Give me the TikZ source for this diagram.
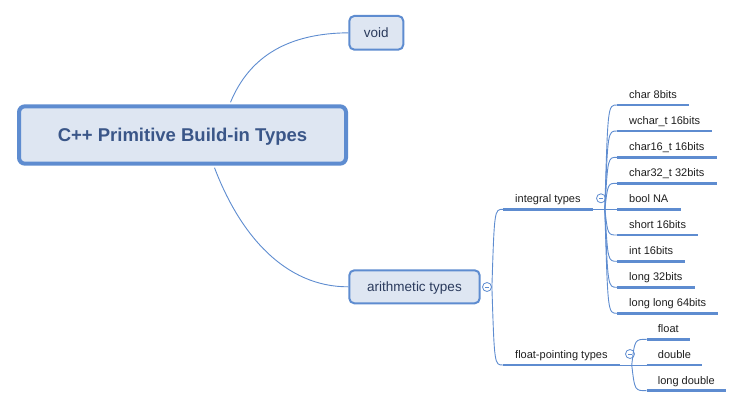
\documentclass[tikz,border=0pt]{standalone}
\usepackage{fontspec}
\setmainfont{Liberation Sans}

\definecolor{mapblue}{RGB}{94,140,208}
\definecolor{mapfill}{RGB}{222,230,242}
\definecolor{titletext}{RGB}{58,86,136}
\definecolor{topictext}{RGB}{42,58,92}
\definecolor{leaftext}{RGB}{30,30,30}

\tikzset{
  topic/.style={draw=mapblue, fill=mapfill, rounded corners=5pt, line width=2pt, text depth=0pt,
    font=\fontsize{13.5}{16}\selectfont, text=topictext},
  leaf/.style={anchor=south west, inner xsep=12pt, inner ysep=6.5pt, text depth=0pt,
    font=\fontsize{11}{13}\selectfont, text=leaftext},
  uline/.style={mapblue, line width=2.8pt},
  conn/.style={mapblue, line width=0.9pt},
  fold/.style={circle, draw=mapblue, fill=white, line width=0.8pt, minimum size=9pt, inner sep=0pt,
    path picture={\draw[mapblue, line width=0.8pt] ([xshift=-2.2pt]path picture bounding box.center) -- ([xshift=2.2pt]path picture bounding box.center);}}
}

\begin{document}
\begin{tikzpicture}[x=1pt,y=-1pt]
\useasboundingbox (0,0) rectangle (744,408);

% Draw the central topic
\node[topic, line width=4pt, rounded corners=6pt, minimum width=327pt, minimum height=57.4pt,
  font=\fontsize{18.5}{22}\selectfont\bfseries, text=titletext] (root) at (182.5,135) {C++ Primitive Build-in Types};

% Draw the two main topics
\node[topic, minimum width=54pt, minimum height=33.7pt] (void) at (376.3,32.8) {void};
\node[topic, minimum width=130.4pt, minimum height=33pt] (arith) at (414.5,286.8) {arithmetic types};

\draw[conn] ([xshift=48pt,yshift=2pt]root.north) .. controls (250,55) and (290,33.3) .. (void.west);
\draw[conn] ([xshift=32pt,yshift=-2pt]root.south) .. controls (240,235) and (285,287) .. (arith.west);

% Draw the fold markers
\node[fold] (arithfold) at (487,287) {};
\node[fold] (intfold) at (601,198.3) {};
\node[fold] (floatfold) at (630,354) {};

% Draw the arithmetic subtopics
\node[leaf] (integral) at (503,209.3) {integral types};
\node[leaf] (floating) at (503,365) {float-pointing types};

\draw[conn] (arithfold.east) .. controls ([xshift=2.5pt]arithfold.east |- integral.south west) .. (integral.south west);
\draw[conn] (arithfold.east) .. controls ([xshift=2.5pt]arithfold.east |- floating.south west) .. (floating.south west);

\draw[uline] (integral.south west) -- (integral.south east);
\draw[uline] (floating.south west) -- (floating.south east);

% Draw the integral types
\node[leaf] (char8) at (617,105) {char 8bits};
\node[leaf] (wchar) at (617,131) {wchar\_t 16bits};
\node[leaf] (char16) at (617,157.3) {char16\_t 16bits};
\node[leaf] (char32) at (617,183.3) {char32\_t 32bits};
\node[leaf] (boolna) at (617,209.3) {bool NA};
\node[leaf] (short) at (617,235) {short 16bits};
\node[leaf] (int) at (617,261.3) {int 16bits};
\node[leaf] (long) at (617,287.3) {long 32bits};
\node[leaf] (longlong) at (617,313.3) {long long 64bits};

\coordinate (intjoin) at ([xshift=12pt]integral.south east);
\draw[conn] (integral.south east) -- (intjoin);

\draw[conn] (intjoin) .. controls ([xshift=3pt]intjoin |- char8.south west) .. (char8.south west);
\draw[conn] (intjoin) .. controls ([xshift=3pt]intjoin |- wchar.south west) .. (wchar.south west);
\draw[conn] (intjoin) .. controls ([xshift=3pt]intjoin |- char16.south west) .. (char16.south west);
\draw[conn] (intjoin) .. controls ([xshift=3pt]intjoin |- char32.south west) .. (char32.south west);
\draw[conn] (intjoin) -- (boolna.south west);
\draw[conn] (intjoin) .. controls ([xshift=3pt]intjoin |- short.south west) .. (short.south west);
\draw[conn] (intjoin) .. controls ([xshift=3pt]intjoin |- int.south west) .. (int.south west);
\draw[conn] (intjoin) .. controls ([xshift=3pt]intjoin |- long.south west) .. (long.south west);
\draw[conn] (intjoin) .. controls ([xshift=3pt]intjoin |- longlong.south west) .. (longlong.south west);

\draw[uline] (char8.south west) -- (char8.south east);
\draw[uline] (wchar.south west) -- (wchar.south east);
\draw[uline] (char16.south west) -- (char16.south east);
\draw[uline] (char32.south west) -- (char32.south east);
\draw[uline] (boolna.south west) -- (boolna.south east);
\draw[uline] (short.south west) -- (short.south east);
\draw[uline] (int.south west) -- (int.south east);
\draw[uline] (long.south west) -- (long.south east);
\draw[uline] (longlong.south west) -- (longlong.south east);

% Draw the float-pointing types
\node[leaf, inner xsep=11pt] (float) at (646.7,339.3) {float};
\node[leaf, inner xsep=11pt] (double) at (646.7,365) {double};
\node[leaf, inner xsep=11pt] (longdouble) at (646.7,390.7) {long double};

\coordinate (floatjoin) at ([xshift=12pt]floating.south east);
\draw[conn] (floating.south east) -- (floatjoin);

\draw[conn] (floatjoin) .. controls ([xshift=3pt]floatjoin |- float.south west) .. (float.south west);
\draw[conn] (floatjoin) -- (double.south west);
\draw[conn] (floatjoin) .. controls ([xshift=3pt]floatjoin |- longdouble.south west) .. (longdouble.south west);

\draw[uline] (float.south west) -- (float.south east);
\draw[uline] (double.south west) -- (double.south east);
\draw[uline] (longdouble.south west) -- (longdouble.south east);

\end{tikzpicture}
\end{document}
